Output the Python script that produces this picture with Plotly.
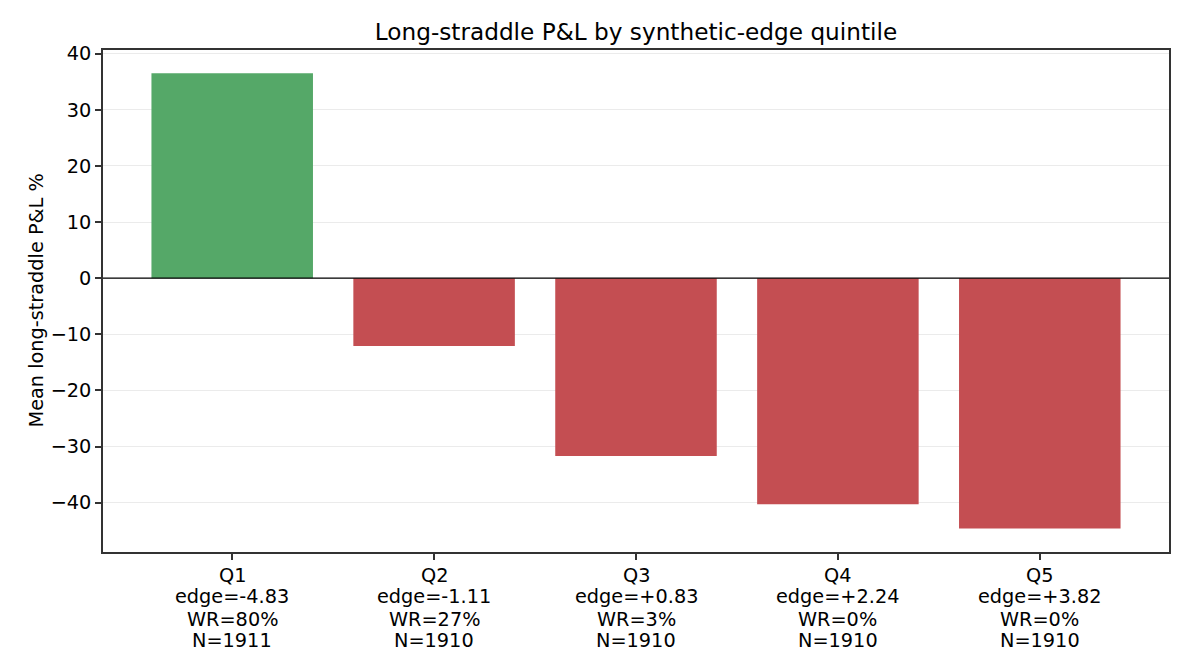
import plotly.graph_objects as go

quintiles = ["Q1", "Q2", "Q3", "Q4", "Q5"]
edge = ["-4.83", "-1.11", "+0.83", "+2.24", "+3.82"]
win_rate = [80, 27, 3, 0, 0]
counts = [1911, 1910, 1910, 1910, 1910]
mean_pnl = [36.5, -12.1, -31.7, -40.3, -44.6]

POS = "#55A868"
NEG = "#C44E52"
FONT = "DejaVu Sans"
TICK_PX = 19.3
TITLE_PX = 23.2

x_idx = list(range(len(quintiles)))
colors = [POS if v >= 0 else NEG for v in mean_pnl]

fig = go.Figure()
fig.add_trace(go.Bar(x=x_idx, y=mean_pnl, marker=dict(color=colors, line=dict(width=0)), width=0.8))

fig.update_layout(
    width=1190, height=672,
    margin=dict(l=103, r=21, t=50, b=120),
    paper_bgcolor="white", plot_bgcolor="white",
    showlegend=False,
    font=dict(family=FONT, size=TICK_PX, color="black"),
    title=dict(text="Long-straddle P&L by synthetic-edge quintile", x=0.5, xref="paper", xanchor="center",
               y=1 - 32 / 672, yref="container", yanchor="middle",
               font=dict(family=FONT, size=TITLE_PX, color="black")),
    xaxis=dict(range=[-0.64, 4.64], tickmode="array", tickvals=x_idx, showticklabels=False,
               showline=True, linecolor="#333333", linewidth=1.5, mirror=True,
               ticks="outside", ticklen=6, tickwidth=1.5, tickcolor="#333333",
               showgrid=False, zeroline=False),
    yaxis=dict(range=[-48.8, 40.66], tickmode="linear", tick0=0, dtick=10,
               showline=True, linecolor="#333333", linewidth=1.5, mirror=True,
               ticks="outside", ticklen=6, tickwidth=1.5, tickcolor="#333333",
               showgrid=True, gridcolor="#ebebeb", gridwidth=1.3, zeroline=False,
               tickfont=dict(size=TICK_PX)),
)

# multi-line category labels under each tick (one annotation per line for matplotlib-like line spacing)
line_offsets = [23, 44.7, 67, 88.2]
for i, (q, e, w, n) in enumerate(zip(quintiles, edge, win_rate, counts)):
    lines = [q, f"edge={e}", f"WR={w}%", f"N={n}"]
    for txt, off in zip(lines, line_offsets):
        fig.add_annotation(x=i, xref="x", y=0, yref="paper", yshift=-off, text=txt,
                           showarrow=False, xanchor="center", yanchor="middle",
                           font=dict(family=FONT, size=TICK_PX, color="black"))

# y-axis title
fig.add_annotation(text="Mean long-straddle P&L %", xref="paper", x=(35.5 - 103) / 1066, xanchor="center",
                   yref="paper", y=0.5, yanchor="middle", textangle=-90, showarrow=False,
                   font=dict(family=FONT, size=TICK_PX, color="black"))

fig.add_shape(type="line", xref="paper", x0=0, x1=1, yref="y", y0=0, y1=0,
              line=dict(color="black", width=1.1), layer="above")

fig.write_html("out.html")
